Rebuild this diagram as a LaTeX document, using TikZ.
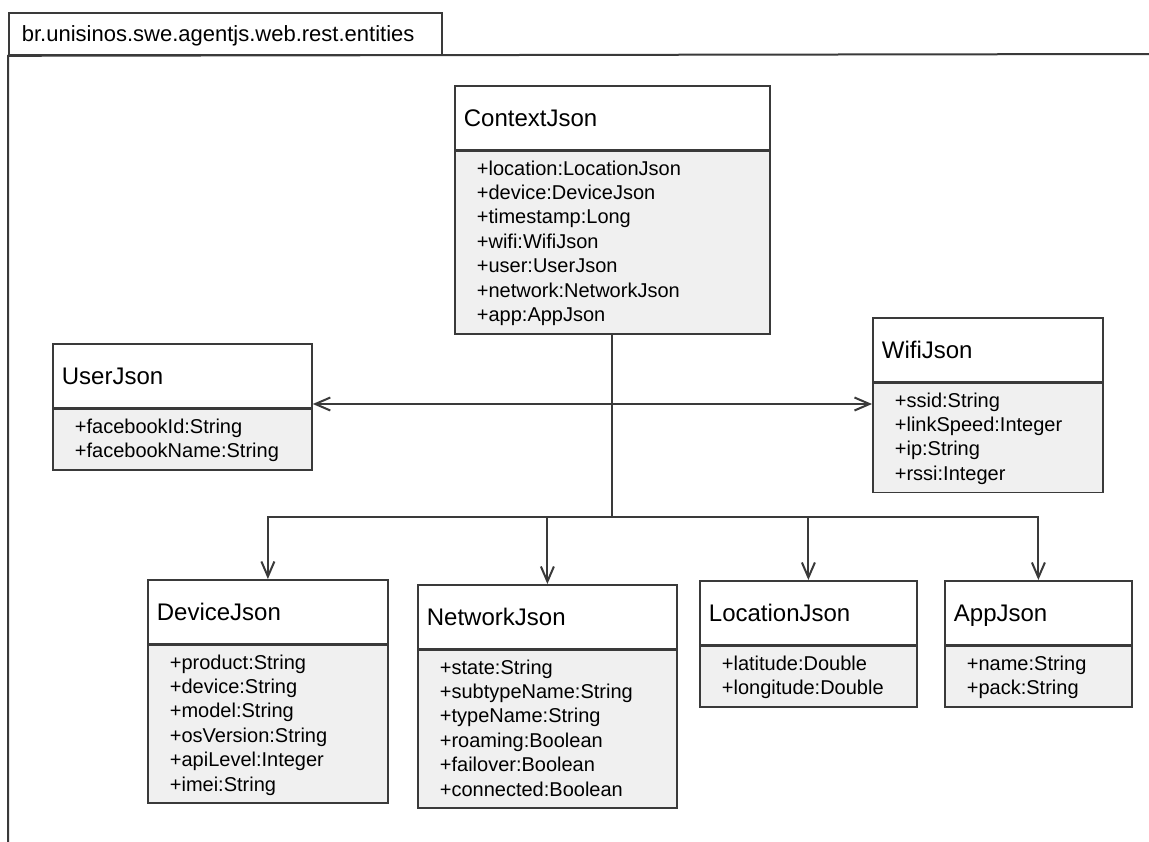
\documentclass[tikz,border=0pt]{standalone}
\usepackage{fontspec}
\setmainfont{Liberation Sans}
\usetikzlibrary{arrows.meta}

\definecolor{edge}{RGB}{58,58,58}
\definecolor{compfill}{RGB}{240,240,240}

% one attribute row: fixed height and depth so rows are evenly spaced
\newcommand\rs{\rule[-6.4pt]{0pt}{24.4pt}}
% class and package names: vertical size of a capital only
\newcommand\ttl[2]{\rule{0pt}{#1}\smash{#2}}

\tikzset{
  classhead/.style={draw=edge, line width=1.8pt, fill=white, anchor=north west,
    minimum width=#1pt, text width=#1pt-18pt, inner xsep=9pt, inner ysep=0pt,
    minimum height=63.5pt, align=left, font=\fontsize{24}{28}\selectfont},
  classbody/.style={draw=edge, line width=1.8pt, fill=compfill, anchor=north west,
    minimum width=#1pt, text width=#1pt-44pt, inner xsep=22pt, inner ysep=5.8pt,
    align=left, font=\fontsize{20}{24.4}\selectfont},
  conn/.style={draw=edge, line width=2pt},
  assoc/.style={conn, -{Straight Barb[length=15pt,width=13pt]}},
}

\begin{document}
\begin{tikzpicture}[x=1pt, y=-1pt]
  \useasboundingbox[fill=white] (0,0) rectangle (1149,841);

  % package tab and frame
  \node[draw=edge, line width=1.8pt, anchor=north west, minimum width=433pt,
        minimum height=42pt, text width=407pt, inner xsep=13pt, inner ysep=0pt,
        align=left, font=\fontsize{22}{26}\selectfont]
        (pkgtab) at (8,12) {\ttl{15.8pt}{br.unisinos.swe.agentjs.web.rest.entities}};
  \coordinate (frameR) at (1155,54);
  \coordinate (frameB) at (8,850);
  \draw[conn] (frameR) -- (pkgtab.south west) -- (frameB);

  % ContextJson
  \node[classhead=315] (ctxh) at (454,85) {\ttl{17.2pt}{ContextJson}};
  \node[classbody=315] (ctxb) at (ctxh.south west) {\rs+location:LocationJson\\
    \rs+device:DeviceJson\\ \rs+timestamp:Long\\ \rs+wifi:WifiJson\\
    \rs+user:UserJson\\ \rs+network:NetworkJson\\ \rs+app:AppJson};

  % UserJson
  \node[classhead=259] (userh) at (52,343) {\ttl{17.2pt}{UserJson}};
  \node[classbody=259] (userb) at (userh.south west) {\rs+facebookId:String\\
    \rs+facebookName:String};

  % WifiJson
  \node[classhead=230] (wifih) at (872,317) {\ttl{17.2pt}{WifiJson}};
  \node[classbody=230] (wifib) at (wifih.south west) {\rs+ssid:String\\
    \rs+linkSpeed:Integer\\ \rs+ip:String\\ \rs+rssi:Integer};

  % DeviceJson
  \node[classhead=240] (devh) at (147,579) {\ttl{17.2pt}{DeviceJson}};
  \node[classbody=240] (devb) at (devh.south west) {\rs+product:String\\
    \rs+device:String\\ \rs+model:String\\ \rs+osVersion:String\\
    \rs+apiLevel:Integer\\ \rs+imei:String};

  % NetworkJson
  \node[classhead=259] (neth) at (417,584) {\ttl{17.2pt}{NetworkJson}};
  \node[classbody=259] (netb) at (neth.south west) {\rs+state:String\\
    \rs+subtypeName:String\\ \rs+typeName:String\\ \rs+roaming:Boolean\\
    \rs+failover:Boolean\\ \rs+connected:Boolean};

  % LocationJson
  \node[classhead=217] (loch) at (699,580) {\ttl{17.2pt}{LocationJson}};
  \node[classbody=217] (locb) at (loch.south west) {\rs+latitude:Double\\
    \rs+longitude:Double};

  % AppJson
  \node[classhead=187] (apph) at (944,580) {\ttl{17.2pt}{AppJson}};
  \node[classbody=187] (appb) at (apph.south west) {\rs+name:String\\
    \rs+pack:String};

  % associations from ContextJson
  \coordinate (hub) at (ctxb.south |- 0,404);
  \coordinate (bus) at (ctxb.south |- 0,517);
  \draw[conn] (ctxb.south) -- (bus);
  \draw[assoc] (hub) -- (hub -| userb.east);
  \draw[assoc] (hub) -- (hub -| wifib.west);
  \draw[assoc] (bus) -| (devh.north);
  \draw[assoc] (bus) -| (neth.north);
  \draw[assoc] (bus) -| (loch.north);
  \draw[assoc] (bus) -| (apph.north);
\end{tikzpicture}
\end{document}
